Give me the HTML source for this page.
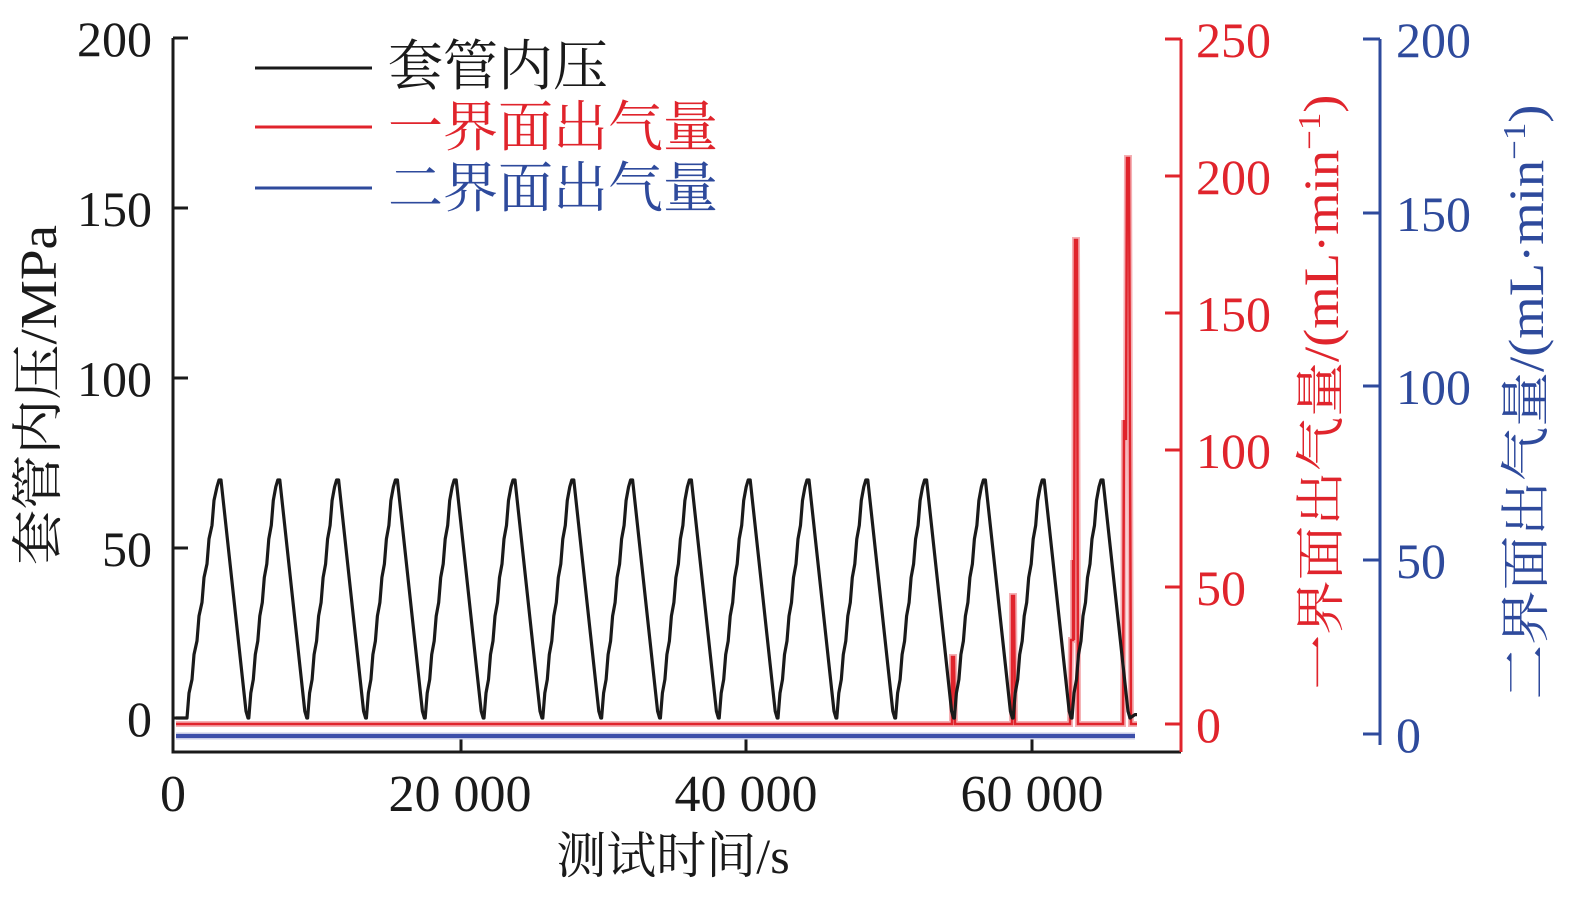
<!DOCTYPE html>
<html><head><meta charset="utf-8"><style>
html,body{margin:0;padding:0;background:#fff;}
svg{display:block;}
text{font-family:"Liberation Serif","Noto Serif CJK SC",serif;}
.n{font-family:"Liberation Serif","Times New Roman",serif;}
</style></head><body>
<svg id="s" width="1575" height="906" viewBox="0 0 1575 906" xmlns="http://www.w3.org/2000/svg">
<g stroke="#1a1a1a" stroke-width="3" fill="none">
<polyline points="173,38 173,752 1181,752"/>
<line x1="173" y1="38" x2="188" y2="38"/>
<line x1="173" y1="208" x2="188" y2="208"/>
<line x1="173" y1="378" x2="188" y2="378"/>
<line x1="173" y1="548" x2="188" y2="548"/>
<line x1="173" y1="718" x2="188" y2="718"/>
<line x1="461" y1="752" x2="461" y2="738"/>
<line x1="746" y1="752" x2="746" y2="738"/>
<line x1="1032" y1="752" x2="1032" y2="738"/>
</g>
<g class="n" font-size="50" fill="#1a1a1a" text-anchor="end">
<text class="n" x="152" y="56">200</text>
<text class="n" x="152" y="226">150</text>
<text class="n" x="152" y="396">100</text>
<text class="n" x="152" y="566">50</text>
<text class="n" x="152" y="736">0</text>
</g>
<g font-size="52" fill="#1a1a1a" text-anchor="middle">
<text class="n" x="173" y="811">0</text>
<text class="n" x="460" y="811">20 000</text>
<text class="n" x="746" y="811">40 000</text>
<text class="n" x="1032" y="811">60 000</text>
</g>
<text x="673" y="873" font-size="50" fill="#1a1a1a" text-anchor="middle">测试时间/s</text>
<text transform="translate(56,395) rotate(-90)" font-size="52" fill="#1a1a1a" text-anchor="middle" textLength="340" lengthAdjust="spacingAndGlyphs">套管内压/MPa</text>
<g stroke="#e0242c" stroke-width="3" fill="none">
<line x1="1181" y1="39" x2="1181" y2="752"/>
<line x1="1165" y1="39" x2="1181" y2="39"/>
<line x1="1165" y1="176" x2="1181" y2="176"/>
<line x1="1165" y1="313" x2="1181" y2="313"/>
<line x1="1165" y1="450" x2="1181" y2="450"/>
<line x1="1165" y1="587" x2="1181" y2="587"/>
<line x1="1165" y1="724" x2="1181" y2="724"/>
</g>
<g font-size="50" fill="#e0242c">
<text class="n" x="1196" y="57">250</text>
<text class="n" x="1196" y="194">200</text>
<text class="n" x="1196" y="331">150</text>
<text class="n" x="1196" y="468">100</text>
<text class="n" x="1196" y="605">50</text>
<text class="n" x="1196" y="742">0</text>
</g>
<text transform="translate(1338,392) rotate(-90)" font-size="50" fill="#e0242c" text-anchor="middle" textLength="595" lengthAdjust="spacingAndGlyphs">一界面出气量/(mL·min<tspan dy="-18" font-size="32">−1</tspan><tspan dy="18">)</tspan></text>
<g stroke="#2e4a9c" stroke-width="3" fill="none">
<line x1="1380" y1="39" x2="1380" y2="745"/>
<line x1="1363" y1="39" x2="1380" y2="39"/>
<line x1="1363" y1="213" x2="1380" y2="213"/>
<line x1="1363" y1="386" x2="1380" y2="386"/>
<line x1="1363" y1="560" x2="1380" y2="560"/>
<line x1="1363" y1="734" x2="1380" y2="734"/>
</g>
<g font-size="50" fill="#2e4a9c">
<text class="n" x="1396" y="57">200</text>
<text class="n" x="1396" y="231">150</text>
<text class="n" x="1396" y="404">100</text>
<text class="n" x="1396" y="578">50</text>
<text class="n" x="1396" y="752">0</text>
</g>
<text transform="translate(1543,402) rotate(-90)" font-size="50" fill="#2e4a9c" text-anchor="middle" textLength="595" lengthAdjust="spacingAndGlyphs">二界面出气量/(mL·min<tspan dy="-18" font-size="32">−1</tspan><tspan dy="18">)</tspan></text>
<g stroke-width="3">
<line x1="255" y1="68" x2="372" y2="68" stroke="#1a1a1a"/>
<line x1="255" y1="127" x2="372" y2="127" stroke="#e0242c"/>
<line x1="255" y1="188" x2="372" y2="188" stroke="#2e4a9c"/>
</g>
<g font-size="55">
<text x="388" y="85" fill="#1a1a1a">套管内压</text>
<text x="388" y="146" fill="#e0242c">一界面出气量</text>
<text x="388" y="207" fill="#2e4a9c">二界面出气量</text>
</g>
<line x1="176" y1="736" x2="1135" y2="736" stroke="#c8cbe6" stroke-width="7"/>
<line x1="176" y1="736" x2="1135" y2="736" stroke="#3d4faa" stroke-width="4"/>
<polyline id="redh" fill="none" stroke="#f4b0b4" stroke-width="6" points=""/>
<polyline id="red" fill="none" stroke="#e0242c" stroke-width="2.5" points=""/>
<polyline id="blk" fill="none" stroke="#1a1a1a" stroke-width="3.2" stroke-linejoin="round" points=""/>
</svg>
<script>
(function(){
var pts=[[176,718],[186,718]];
var Y=function(v){return 718-3.4*v;};
for(var i=0;i<16;i++){
  var P=220+58.8*i;
  var t0=(i==0)?187:P-30;
  var steps=6;
  for(var k=0;k<steps;k++){
    var xa=t0+(P-3-t0)*k/steps, xb=t0+(P-3-t0)*(k+1)/steps;
    var va=68*k/steps, vb=68*(k+1)/steps;
    pts.push([xa,Y(va)]);pts.push([xa+2,Y(vb-4)]);pts.push([xb,Y(vb)]);
  }
  pts.push([P-1,Y(70)]);pts.push([P+1,Y(70)]);
  pts.push([P+26,Y(2)]);pts.push([P+28,Y(0)]);
}
pts.push([1135,Y(1)]);pts.push([1137,Y(1)]);
document.getElementById('blk').setAttribute('points',pts.map(function(p){return p[0].toFixed(1)+','+p[1].toFixed(1);}).join(' '));
var R=[[176,724],[952,724],[952,657],[954,657],[955,724],[1012,724],[1012,596],[1014,596],[1015,724],[1070,724],[1071,640],[1073,640],[1073,560],[1074,640],[1075,240],[1077,240],[1078,724],[1123,724],[1124,420],[1126,440],[1127,158],[1129,158],[1131,724],[1137,724]];
var s=R.map(function(p){return p.join(',');}).join(' ');
document.getElementById('red').setAttribute('points',s);
document.getElementById('redh').setAttribute('points',s);
})();
</script>
</body></html>
